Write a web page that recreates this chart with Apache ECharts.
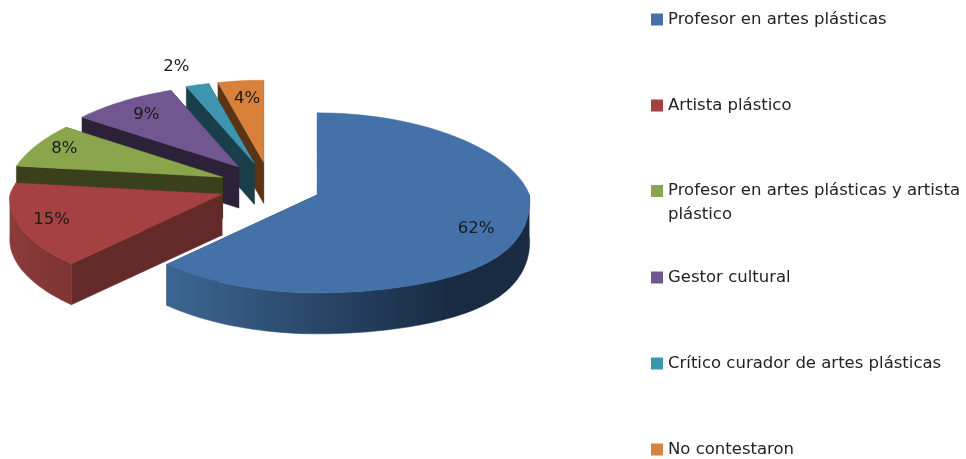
<!DOCTYPE html>
<html><head><meta charset="utf-8">
<style>html,body{margin:0;padding:0;background:#fff}#c{width:966px;height:459px}</style>
<script src="https://cdn.jsdelivr.net/npm/echarts@6/dist/echarts.min.js"></script>
</head><body><div id="c"></div>
<script>
const categories = ['Profesor en artes plásticas','Artista plástico','Profesor en artes plásticas y artista\nplástico','Gestor cultural','Crítico curador de artes plásticas','No contestaron'];
const values = [62,15,8,9,2,4];
const topColors = ['#4471A8','#A54140','#89A64C','#71578F','#3E95AF','#D9813A'];
const radialWall = ['#1B3049','#642A29','#3A401B','#2C2138','#1B3E4B','#5A3415'];
const outerFrom = ['#3C6592','#8C3B39','#3A401B','#2C2138','#1B3E4B','#5A3415'];
const outerTo = ['#182B43','#7D3432','#3A401B','#2C2138','#1B3E4B','#5A3415'];
const labelFx = [0.79,0.84,0.85,0.80,1.37,0.72];
const labelFy = [0.81,0.82,0.90,0.80,1.23,0.78];

const CX=270, CY=186, EX=51, EY=24, RX=212, RY=89.3, TY=0.089, DEPTH=41, SAG=9;
const total = values.reduce((a,b)=>a+b,0);
const starts=[]; values.reduce((s,v,i)=>{starts[i]=s;return s+v/total*360;},0);
const rad=d=>d*Math.PI/180;
function radial(deg){
  const s=Math.sin(rad(deg)), c=Math.cos(rad(deg));
  const tx=c>0?0.16:0.05;
  const sag=(s>0&&c<0)?SAG*Math.sin(Math.PI*-c):0;
  return [RX*s/(1+tx*c), -RY*c/(1+TY*c)+sag];
}
function renderSlice(i){
  const a0=starts[i], sweep=values[i]/total*360, mid=a0+sweep/2;
  const ax=CX+EX*Math.sin(rad(mid)), ay=CY-EY*Math.cos(rad(mid));
  const arc=[], front=[]; const n=Math.max(8,Math.ceil(sweep/2));
  for(let j=0;j<=n;j++){
    const deg=a0+sweep*j/n, p=radial(deg), pt=[ax+p[0],ay+p[1]];
    arc.push(pt);
    if(Math.cos(rad(deg))<=0.02) front.push(pt);
  }
  const low=p=>[p[0],p[1]+DEPTH];
  const apex=[ax,ay];
  const poly=(points,fill)=>({type:'polygon',shape:{points},style:{fill,stroke:fill,lineWidth:0.5}});
  const xs=arc.map(p=>p[0]);
  const grad={type:'linear',x:i===0?171:Math.min(...xs),y:0,x2:i===0?450:Math.max(...xs),y2:0,global:true,
    colorStops:[{offset:0,color:outerFrom[i]},{offset:1,color:outerTo[i]}]};
  const first=arc[0], last=arc[arc.length-1];
  const m=radial(mid);
  const children=[
    poly([apex,first,low(first),low(apex)],radialWall[i]),
    poly([apex,last,low(last),low(apex)],radialWall[i])
  ];
  if(front.length>1) children.push(poly(front.concat(front.slice().reverse().map(low)),grad));
  children.push(poly([apex].concat(arc),topColors[i]));
  children.push({type:'text',x:ax+m[0]*labelFx[i],y:ay+m[1]*labelFy[i],z2:5,
     style:{text:values[i]+'%',fill:'#1a1a1a',font:'16.5px "DejaVu Sans"',align:'center',verticalAlign:'middle'}});
  return {type:'group',children};
}
const legendTops=[11,97,155,269,355,441];
const order=[5,4,3,2,1,0];
const chart=echarts.init(document.getElementById('c'),null,{renderer:'canvas'});
chart.setOption({
  animation:false,
  backgroundColor:'#fff',
  legend:categories.map((name,i)=>({
    data:[name],left:651,top:legendTops[i],orient:'vertical',selectedMode:false,
    itemWidth:12,itemHeight:12,itemGap:0,padding:0,icon:'rect',
    formatter:n=>n.includes('\n')?'\n'+n:n,
    textStyle:Object.assign({fontFamily:'DejaVu Sans',fontSize:16.5,color:'#222'},
      name.includes('\n')?{lineHeight:24}:{})
  })),
  series:order.map((i,k)=>({
    type:'custom',name:categories[i],coordinateSystem:'none',silent:true,z:2+k,
    itemStyle:{color:topColors[i]},
    data:[[values[i]]],
    renderItem:()=>renderSlice(i)
  }))
});
</script></body></html>
